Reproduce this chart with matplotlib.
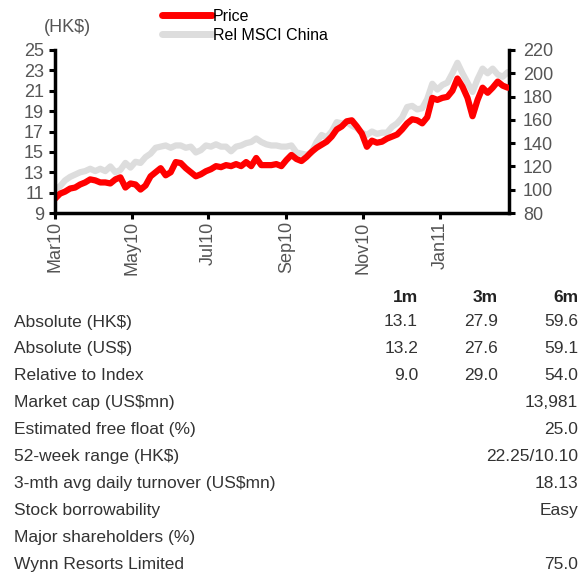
import matplotlib
matplotlib.use("Agg")
import matplotlib.pyplot as plt
import matplotlib.dates as mdates
import pandas as pd

plt.rcParams['font.family'] = ['Liberation Sans', 'DejaVu Sans']
plt.rcParams['text.parse_math'] = False

# price history, one reading every 4 days from 1 Mar 2010
start_date = '2010-03-01'
price = [10.4, 10.9, 11.1, 11.4, 11.5, 11.8, 12.0, 12.3, 12.2, 12.0,
         12.0, 11.9, 12.3, 12.5, 11.5, 11.9, 11.8, 11.3, 11.7, 12.6,
         13.0, 13.4, 12.7, 13.0, 14.0, 13.9, 13.4, 13.0, 12.6, 12.8,
         13.1, 13.3, 13.6, 13.5, 13.7, 13.6, 13.8, 13.6, 14.0, 13.6,
         14.4, 13.7, 13.7, 13.7, 13.8, 13.6, 14.2, 14.7, 14.3, 14.1,
         14.5, 15.0, 15.4, 15.7, 16.0, 16.5, 17.2, 17.5, 18.0, 18.1,
         17.5, 16.8, 15.5, 16.1, 15.9, 16.0, 16.3, 16.5, 16.7, 17.2,
         17.8, 18.2, 18.1, 17.8, 18.4, 20.3, 20.1, 20.3, 20.4, 21.0,
         22.2, 21.4, 20.3, 18.5, 20.1, 21.3, 20.8, 21.3, 21.9, 21.5,
         21.3]
rel_msci = [100, 103, 108, 111, 113, 115, 116, 118, 116, 118,
            116, 120, 115, 117, 123, 119, 124, 123, 128, 131,
            136, 137, 138, 136, 138, 138, 136, 137, 132, 134,
            138, 137, 139, 137, 137, 133, 137, 138, 140, 141,
            144, 141, 139, 138, 138, 137, 137, 138, 132, 131,
            130, 132, 141, 147, 145, 150, 158, 157, 158, 155,
            153, 149, 147, 150, 148, 149, 149, 154, 157, 162,
            171, 172, 169, 170, 178, 191, 186, 190, 192, 200,
            209, 200, 192, 184, 195, 204, 200, 204, 199, 197,
            201]
tick_dates = ['2010-03-01', '2010-05-01', '2010-07-01', '2010-09-01',
              '2010-11-01', '2011-01-01']
end_date = '2011-02-25'

# performance table
col_heads = ['1m', '3m', '6m']
row_labels = ['Absolute (HK$)', 'Absolute (US$)', 'Relative to Index',
              'Market cap (US$mn)', 'Estimated free float (%)',
              '52-week range (HK$)', '3-mth avg daily turnover (US$mn)',
              'Stock borrowability', 'Major shareholders (%)',
              'Wynn Resorts Limited']
val_1m = ['13.1', '13.2', '9.0', '', '', '', '', '', '', '']
val_3m = ['27.9', '27.6', '29.0', '', '', '', '', '', '', '']
val_6m = ['59.6', '59.1', '54.0', '13,981', '25.0', '22.25/10.10',
          '18.13', 'Easy', '', '75.0']

dates = pd.date_range(start_date, periods=len(price), freq='4D')

W, H = 579, 572
fig = plt.figure(figsize=(W / 100, H / 100), dpi=100)
ax = fig.add_axes([55 / W, 1 - 213 / H, 454 / W, 163 / H])
ax2 = ax.twinx()
ax.set_zorder(ax2.get_zorder() + 1)
ax.patch.set_visible(False)

l2, = ax2.plot(dates, rel_msci, color='#dddddd', lw=4.5,
               solid_capstyle='round', solid_joinstyle='round')
l1, = ax.plot(dates, price, color='#ff0000', lw=4.5,
              solid_capstyle='round', solid_joinstyle='round')

ax.set_xlim(pd.Timestamp(start_date), pd.Timestamp(end_date))
ax.set_ylim(9, 25)
ax.set_yticks(range(9, 26, 2))
ax2.set_ylim(80, 220)
ax2.set_yticks(range(80, 221, 20))
ax.set_xticks(pd.to_datetime(tick_dates))
ax.xaxis.set_major_formatter(mdates.DateFormatter('%b%y'))

tick_grey = '#555555'
for a in (ax, ax2):
    a.spines['top'].set_visible(False)
    for s in a.spines.values():
        s.set_linewidth(2.5)
ax2.spines['left'].set_visible(False)
ax2.spines['bottom'].set_visible(False)
ax.spines['right'].set_visible(False)

ax.tick_params(axis='y', length=4, width=2.2, pad=4, labelsize=13,
               labelcolor=tick_grey)
ax.tick_params(axis='x', length=4, width=2.2, pad=2, labelsize=13,
               labelcolor=tick_grey, labelrotation=90)
ax2.tick_params(axis='y', length=4, width=2.2, pad=6, labelsize=13,
                labelcolor=tick_grey)

fig.text(44 / W, 1 - 27 / H, '(HK$)', fontsize=13, color=tick_grey,
         va='center', ha='left')

leg = ax.legend([l1, l2], ['Price', 'Rel MSCI China'], loc='upper left',
                bbox_to_anchor=(162 / W, 1 - 9 / H),
                bbox_transform=fig.transFigure, frameon=False,
                fontsize=11.5, handlelength=3.1, handletextpad=0.1,
                labelspacing=0.25, borderpad=0, borderaxespad=0)
for h in leg.get_lines():
    h.set_linewidth(5)

# table under the chart
col_x = [418, 498, 578]
for x, head in zip(col_x, col_heads):
    fig.text(x / W, 1 - 297 / H, head, fontsize=12.5, fontweight='bold',
             color='#222222', ha='right', va='center')
for i, lab in enumerate(row_labels):
    y = 1 - (322 + 26.9 * i) / H
    fig.text(14 / W, y, lab, fontsize=12.5, color='#333333',
             ha='left', va='center')
    for x, v in zip(col_x, (val_1m[i], val_3m[i], val_6m[i])):
        if v:
            fig.text(x / W, y, v, fontsize=12.5, color='#333333',
                     ha='right', va='center')

fig.savefig('out.png', dpi=100)
